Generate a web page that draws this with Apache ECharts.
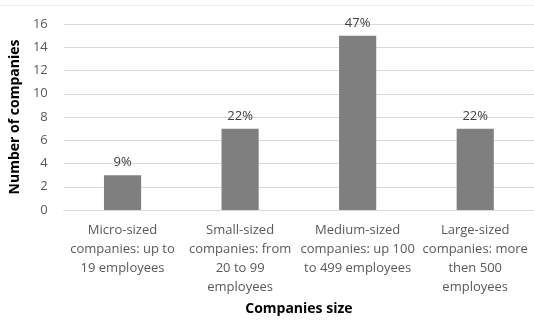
<!DOCTYPE html>
<html>
<head>
<meta charset="utf-8">
<script src="https://cdn.jsdelivr.net/npm/echarts@6/dist/echarts.min.js"></script>
<style>
  html, body { margin: 0; padding: 0; background: #fff; }
  #chart { width: 534px; height: 323px; }
</style>
</head>
<body>
<div id="chart"></div>
<script>
// data
var categories = [
  'Micro-sized\ncompanies: up to\n19 employees',
  'Small-sized\ncompanies: from\n20 to 99\nemployees',
  'Medium-sized\ncompanies: up 100\nto 499 employees',
  'Large-sized\ncompanies: more\nthen 500\nemployees'
];
var counts = [3, 7, 15, 7];
var shares = ['9%', '22%', '47%', '22%'];
var yTicks = [0, 16, 2]; // min, max, step

var myChart = echarts.init(document.getElementById('chart'));
var font = '"Open Sans", "Liberation Sans", sans-serif';

var option = {
  animation: false,
  // faint frame line at the top, as in the original
  graphic: [{
    type: 'line',
    shape: { x1: 0, y1: 5.5, x2: 534, y2: 5.5 },
    style: { stroke: '#ececec', lineWidth: 1 }
  }],
  grid: { left: 58, width: 481, top: 24, bottom: 113, containLabel: false },
  xAxis: {
    type: 'category',
    data: categories,
    name: 'Companies size',
    nameLocation: 'middle',
    nameGap: 92,
    nameTextStyle: { fontFamily: font, fontWeight: 'bold', fontSize: 14, color: '#000' },
    axisLine: { lineStyle: { color: '#d9d9d9' } },
    axisTick: { show: false },
    axisLabel: {
      interval: 0,
      fontFamily: font, fontSize: 13, color: '#595959',
      lineHeight: 19, margin: 11
    }
  },
  yAxis: {
    type: 'value',
    min: yTicks[0],
    max: yTicks[1],
    interval: yTicks[2],
    name: 'Number of companies',
    nameLocation: 'middle',
    nameGap: 34,
    nameTextStyle: { fontFamily: font, fontWeight: 'bold', fontSize: 14, color: '#000' },
    axisLine: { show: false },
    axisTick: { show: false },
    splitLine: { lineStyle: { color: '#d9d9d9' } },
    axisLabel: { fontFamily: font, fontSize: 13, color: '#595959', margin: 16 }
  },
  series: [{
    type: 'bar',
    data: counts,
    barWidth: '31.6%',
    itemStyle: { color: '#7f7f7f' },
    label: {
      show: true,
      position: 'top',
      distance: 6,
      fontFamily: font, fontSize: 13, color: '#404040',
      formatter: function (p) { return shares[p.dataIndex]; }
    }
  }]
};
myChart.setOption(option);
</script>
</body>
</html>
